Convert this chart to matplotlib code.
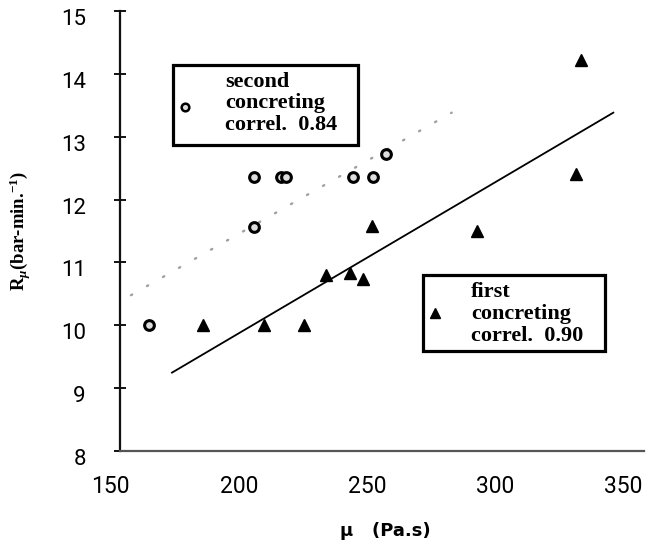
import matplotlib
matplotlib.use("Agg")
import matplotlib.pyplot as plt
import matplotlib.transforms as mtrans
from matplotlib.patches import Rectangle
from matplotlib.lines import Line2D

# ---------------- data ----------------
first_mu = [186, 210, 225.5, 234, 243.5, 248.5, 252, 293, 331.5, 333.5]
first_r = [10.0, 10.0, 10.0, 10.8, 10.83, 10.74, 11.58, 11.5, 12.4, 14.22]

second_mu = [165, 206, 206, 216.5, 218.5, 244.5, 252.5, 257.5]
second_r = [10.0, 11.57, 12.35, 12.35, 12.35, 12.35, 12.35, 12.73]

first_fit_mu = [174, 346]
first_fit_r = [9.25, 13.38]
second_fit_mu = [158, 283]
second_fit_r = [10.48, 13.38]

x_ticks = [150, 200, 250, 300, 350]
y_ticks = [8, 9, 10, 11, 12, 13, 14, 15]

first_label = ["first", "concreting", "correl.  0.90"]
second_label = ["second", "concreting", "correl.  0.84"]
x_label = "μ   (Pa.s)"
y_label = r"R$_{\mu}$(bar-min.$^{-1}$)"

# ---------------- style ----------------
plt.rcParams["mathtext.fontset"] = "custom"
plt.rcParams["mathtext.rm"] = "Liberation Serif:bold"
plt.rcParams["mathtext.it"] = "Liberation Serif:italic:bold"
plt.rcParams["mathtext.bf"] = "Liberation Serif:bold"

W, H = 650, 545
fig = plt.figure(figsize=(W / 100, H / 100), dpi=100)
ax = fig.add_axes([105.3 / W, 1 - 451.3 / H, 538.8 / W, 440.6 / H])
ax.set_xlim(148, 358)
ax.set_ylim(8, 15)

spine_x = 153.7
for s in ["top", "right"]:
    ax.spines[s].set_visible(False)
ax.spines["left"].set_position(("data", spine_x))
ax.spines["left"].set_linewidth(1.6)
ax.spines["left"].set_color("#111111")
ax.spines["bottom"].set_bounds(spine_x, 358)
ax.spines["bottom"].set_linewidth(1.6)
ax.spines["bottom"].set_color("#555555")

tick_font = ["Roboto", "DejaVu Sans"]
ax.set_xticks(x_ticks)
ax.set_yticks(y_ticks)
ax.tick_params(axis="y", direction="inout", length=9, width=1.4, pad=20,
               labelsize=16, color="#111111")
ax.tick_params(axis="x", length=0, pad=17, labelsize=16.5)
for lab in ax.get_xticklabels() + ax.get_yticklabels():
    lab.set_family(tick_font)
shift = mtrans.ScaledTranslation(0, -0.06, fig.dpi_scale_trans)
for t in ax.yaxis.get_major_ticks():
    t.label1.set_transform(t.label1.get_transform() + shift)

# regression lines
ax.plot(first_fit_mu, first_fit_r, color="black", lw=1.3, zorder=2)
ax.plot(second_fit_mu, second_fit_r, color="#a0a0a0", lw=1.7,
        linestyle=(0, (0.6, 7.2)), dash_capstyle="round", zorder=2)

# points
ax.plot(first_mu, first_r, linestyle="none", marker="^", ms=8.5,
        color="black", zorder=3)
ax.plot(second_mu, second_r, linestyle="none", marker="o", ms=7,
        mfc="#dddddd", mec="black", mew=2.2, zorder=3)

# axis labels
ax.set_xlabel(x_label, fontsize=13, fontweight="bold", family="DejaVu Sans")
ax.xaxis.set_label_coords((385 - 105.3) / 538.8, -(522 - 451.3) / 440.6)
ax.set_ylabel(y_label, fontsize=13.5, fontweight="bold", family="Liberation Serif")
ax.yaxis.set_label_coords((33 - 105.3) / 538.8, 0.5)


# legend boxes (figure pixel coordinates)
def fx(x):
    return x / W


def fy(y):
    return 1 - y / H


def box(x0, y0, x1, y1):
    fig.patches.append(Rectangle((fx(x0), fy(y1)), fx(x1) - fx(x0), fy(y0) - fy(y1),
                                 transform=fig.transFigure, fill=True, facecolor="white",
                                 edgecolor="black", lw=2.3, zorder=5))


box(173, 65, 358, 145)
box(423, 275, 605, 351)
fig.lines.append(Line2D([fx(185)], [fy(106.5)], transform=fig.transFigure, marker="o",
                        ms=5.5, mfc="#dddddd", mec="black", mew=1.8, linestyle="none", zorder=6))
fig.lines.append(Line2D([fx(435)], [fy(313)], transform=fig.transFigure, marker="^",
                        ms=6.5, color="black", linestyle="none", zorder=6))
for txt, yb in zip(second_label, [86.7, 108.3, 130]):
    fig.text(fx(225), fy(yb), txt, fontsize=16, fontweight="bold",
             family="Liberation Serif", va="baseline", ha="left", zorder=7)
for txt, yb in zip(first_label, [296.7, 319.3, 341]):
    fig.text(fx(471), fy(yb), txt, fontsize=16, fontweight="bold",
             family="Liberation Serif", va="baseline", ha="left", zorder=7)

fig.savefig("out.png", dpi=100)
